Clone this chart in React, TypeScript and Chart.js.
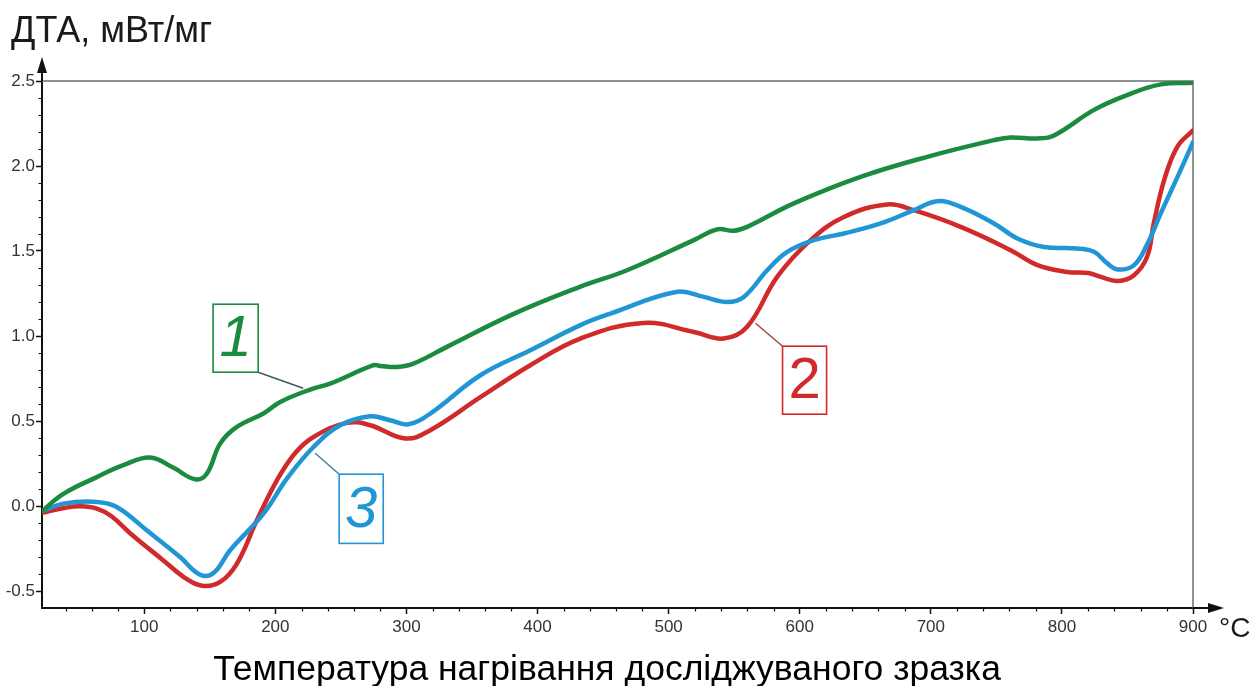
import React, { useEffect, useRef } from 'react';
import { Chart, registerables } from 'chart.js';

Chart.register(...registerables);

// ---- Data (temperature °C, DTA mW/mg) ----
const temp1 = [22, 38, 63.8, 84, 104.4, 122, 138.8, 147.7, 157.9, 170.6, 190.9, 203.7, 226.6, 241.8, 274.9, 280, 292.8, 305.4, 330.9, 381.8, 432.7, 468.3, 519.2, 537, 549.7, 559.9, 595.5, 646.4, 697.3, 748.2, 760.9, 781.3, 794, 824.5, 849.6, 875.4, 900];
const dta1 = [-0.03, 0.07, 0.17, 0.24, 0.285, 0.226, 0.157, 0.19, 0.367, 0.465, 0.544, 0.612, 0.685, 0.72, 0.828, 0.824, 0.818, 0.838, 0.936, 1.13, 1.29, 1.387, 1.564, 1.627, 1.619, 1.642, 1.78, 1.936, 2.054, 2.152, 2.168, 2.162, 2.18, 2.33, 2.417, 2.48, 2.49];

const temp2 = [22, 40, 51, 63.8, 75, 89.2, 114.6, 132.5, 145.1, 157.9, 170.6, 185.9, 201.2, 215, 229.1, 254.6, 272.4, 299.1, 318.2, 356.4, 394.5, 432.7, 481, 519.2, 542, 559.9, 582.8, 608.3, 633.7, 666.8, 687, 722.8, 760.9, 781.3, 804, 820, 829.6, 842.4, 855, 865, 870, 878, 888, 900];
const dta2 = [-0.04, -0.01, -0.002, -0.015, -0.06, -0.16, -0.32, -0.43, -0.47, -0.447, -0.34, -0.084, 0.151, 0.31, 0.406, 0.489, 0.475, 0.397, 0.446, 0.64, 0.828, 0.985, 1.077, 1.024, 0.985, 1.054, 1.348, 1.564, 1.7, 1.774, 1.74, 1.642, 1.505, 1.417, 1.377, 1.37, 1.348, 1.324, 1.358, 1.466, 1.66, 1.917, 2.113, 2.21];

const temp3 = [22, 38.3, 63.8, 79, 101.9, 127.3, 142.6, 152.8, 165.5, 190.9, 208.8, 229.1, 249.5, 272.4, 287.6, 301.6, 318.2, 356.4, 394.5, 432.7, 455.6, 506.5, 526.8, 544.7, 557.3, 575.2, 590.5, 610.8, 633.7, 661.7, 687.1, 705, 722.8, 748.2, 766, 786.4, 811.8, 824.5, 834.7, 842.4, 855.1, 865.3, 875.4, 888.2, 900];
const dta3 = [-0.03, 0.014, 0.024, -0.006, -0.143, -0.3, -0.404, -0.394, -0.26, -0.045, 0.161, 0.347, 0.475, 0.528, 0.504, 0.481, 0.544, 0.769, 0.916, 1.064, 1.132, 1.26, 1.23, 1.2, 1.23, 1.387, 1.495, 1.564, 1.603, 1.662, 1.74, 1.793, 1.76, 1.662, 1.574, 1.524, 1.515, 1.495, 1.427, 1.391, 1.417, 1.544, 1.721, 1.936, 2.14];

const xTicks = [100, 200, 300, 400, 500, 600, 700, 800, 900];
const yTicks = [-0.5, 0.0, 0.5, 1.0, 1.5, 2.0, 2.5];

const X_MIN = 22;
const X_MAX = 900;
const Y_MIN = -0.6;
const Y_MAX = 2.5;

const GREEN = '#1b8b3f';
const RED = '#d02a2b';
const BLUE = '#2196d5';

// curve labels
const labelTexts = ['1', '2', '3'];
const labelColors = [GREEN, RED, BLUE];
const leaderColors = ['#3f5f50', '#a0464a', '#4f7d97'];
const labelItalic = [true, false, true];
const labelBoxX = [[152.5, 186.9], [586.9, 620.5], [248.7, 282.3]];
const labelBoxY = [[1.187, 0.787], [0.94, 0.54], [0.187, -0.22]];
const leaderTarget = [[221.2, 0.693], [566.3, 1.075], [230.4, 0.31]];
const leaderCorner = [['right', 'bottom'], ['left', 'top'], ['left', 'top']];

const FONT = '"Liberation Sans", Arial, Helvetica, sans-serif';

const toPts = (xs: number[], ys: number[]) => xs.map((x, i) => ({ x, y: ys[i] }));

const decorPlugin = {
  id: 'decor',
  beforeDatasetsDraw(chart: any) {
    const { ctx, chartArea } = chart;
    ctx.save();
    ctx.strokeStyle = '#6d6d6d';
    ctx.lineWidth = 1.5;
    ctx.beginPath();
    ctx.moveTo(chartArea.left, chartArea.top);
    ctx.lineTo(chartArea.right, chartArea.top);
    ctx.lineTo(chartArea.right, chartArea.bottom);
    ctx.stroke();
    ctx.restore();
  },
  afterDraw(chart: any) {
    const { ctx, chartArea, scales } = chart;
    const xs = scales.x;
    const ys = scales.y;
    const L = chartArea.left;
    const B = chartArea.bottom;
    ctx.save();

    // minor ticks
    ctx.strokeStyle = '#111';
    ctx.lineWidth = 1.2;
    ctx.beginPath();
    for (let v = 40; v < X_MAX; v += 20) {
      if (v % 100 === 0) continue;
      const px = Math.round(xs.getPixelForValue(v)) + 0.5;
      ctx.moveTo(px, B);
      ctx.lineTo(px, B + 3.5);
    }
    for (let k = -5; k < 25; k++) {
      if (k % 5 === 0) continue;
      const py = Math.round(ys.getPixelForValue(k / 10)) + 0.5;
      ctx.moveTo(L, py);
      ctx.lineTo(L - 3.5, py);
    }
    ctx.stroke();

    // axis arrows
    ctx.fillStyle = '#111';
    ctx.strokeStyle = '#111';
    ctx.lineWidth = 2;
    ctx.beginPath();
    ctx.moveTo(L, chartArea.top);
    ctx.lineTo(L, 68);
    ctx.moveTo(chartArea.right, B);
    ctx.lineTo(1214, B);
    ctx.stroke();
    ctx.beginPath();
    ctx.moveTo(L, 57);
    ctx.lineTo(L - 5, 73);
    ctx.lineTo(L + 5, 73);
    ctx.closePath();
    ctx.fill();
    ctx.beginPath();
    ctx.moveTo(1224, B);
    ctx.lineTo(1208, B - 5);
    ctx.lineTo(1208, B + 5);
    ctx.closePath();
    ctx.fill();

    // curve labels
    for (let i = 0; i < labelTexts.length; i++) {
      const x0 = xs.getPixelForValue(labelBoxX[i][0]);
      const x1 = xs.getPixelForValue(labelBoxX[i][1]);
      const y0 = ys.getPixelForValue(labelBoxY[i][0]);
      const y1 = ys.getPixelForValue(labelBoxY[i][1]);
      const tx = xs.getPixelForValue(leaderTarget[i][0]);
      const ty = ys.getPixelForValue(leaderTarget[i][1]);
      const cx = leaderCorner[i][0] === 'left' ? x0 : x1;
      const cy = leaderCorner[i][1] === 'top' ? y0 : y1;
      ctx.strokeStyle = leaderColors[i];
      ctx.lineWidth = 1.5;
      ctx.beginPath();
      ctx.moveTo(tx, ty);
      ctx.lineTo(cx, cy);
      ctx.stroke();
      ctx.fillStyle = '#fff';
      ctx.fillRect(x0, y0, x1 - x0, y1 - y0);
      ctx.strokeStyle = labelColors[i];
      ctx.lineWidth = 1.6;
      ctx.strokeRect(x0, y0, x1 - x0, y1 - y0);
      ctx.fillStyle = labelColors[i];
      ctx.font = `${labelItalic[i] ? 'italic ' : ''}58px ${FONT}`;
      ctx.textAlign = 'center';
      ctx.textBaseline = 'middle';
      ctx.fillText(labelTexts[i], (x0 + x1) / 2, (y0 + y1) / 2 + 2);
    }

    // titles
    ctx.fillStyle = '#1a1a1a';
    ctx.textBaseline = 'alphabetic';
    ctx.textAlign = 'left';
    ctx.font = `36px ${FONT}`;
    ctx.fillText('ДТА, мВт/мг', 11, 42);
    ctx.font = `28px ${FONT}`;
    ctx.fillText('°C', 1219, 637);
    ctx.textAlign = 'center';
    ctx.font = `35.5px ${FONT}`;
    ctx.fillStyle = '#000';
    ctx.fillText('Температура нагрівання досліджуваного зразка', 607, 680);
    ctx.restore();
  },
};

export default function App() {
  const ref = useRef<HTMLCanvasElement | null>(null);
  useEffect(() => {
    if (!ref.current) return;
    const chart = new Chart(ref.current, {
      type: 'line',
      data: {
        datasets: [
          { label: '1', data: toPts(temp1, dta1), borderColor: GREEN },
          { label: '3', data: toPts(temp3, dta3), borderColor: BLUE },
          { label: '2', data: toPts(temp2, dta2), borderColor: RED },
        ].map((d) => ({
          ...d,
          borderWidth: 4.5,
          pointRadius: 0,
          fill: false,
          tension: 0.4,
          borderCapStyle: 'round' as const,
          borderJoinStyle: 'round' as const,
        })),
      },
      options: {
        animation: false,
        responsive: false,
        layout: { padding: { left: 0, top: 81, right: 62, bottom: 0 } },
        plugins: { legend: { display: false }, tooltip: { enabled: false }, title: { display: false } },
        scales: {
          x: {
            type: 'linear',
            min: X_MIN,
            max: X_MAX,
            afterBuildTicks: (s: any) => {
              s.ticks = xTicks.map((v) => ({ value: v }));
            },
            afterFit: (s: any) => {
              s.height = 78;
            },
            grid: { drawOnChartArea: false, drawTicks: true, tickLength: 6, tickColor: '#111', tickWidth: 1.5 },
            border: { display: true, color: '#111', width: 2 },
            ticks: { color: '#333', font: { size: 17, family: FONT }, padding: 3, maxRotation: 0, autoSkip: false, callback: (v: any) => String(v) },
          },
          y: {
            type: 'linear',
            min: Y_MIN,
            max: Y_MAX,
            afterBuildTicks: (s: any) => {
              s.ticks = yTicks.map((v) => ({ value: v }));
            },
            afterFit: (s: any) => {
              s.width = 42;
            },
            grid: { drawOnChartArea: false, drawTicks: true, tickLength: 6, tickColor: '#111', tickWidth: 1.5 },
            border: { display: true, color: '#111', width: 2 },
            ticks: { color: '#333', font: { size: 17, family: FONT }, padding: 1, autoSkip: false, callback: (v: any) => Number(v).toFixed(1) },
          },
        },
      },
      plugins: [decorPlugin],
    });
    return () => chart.destroy();
  }, []);
  return (
    <canvas
      ref={ref}
      width={1255}
      height={686}
      style={{ position: 'fixed', left: 0, top: 0, width: 1255, height: 686, display: 'block', background: '#fff' }}
    />
  );
}
